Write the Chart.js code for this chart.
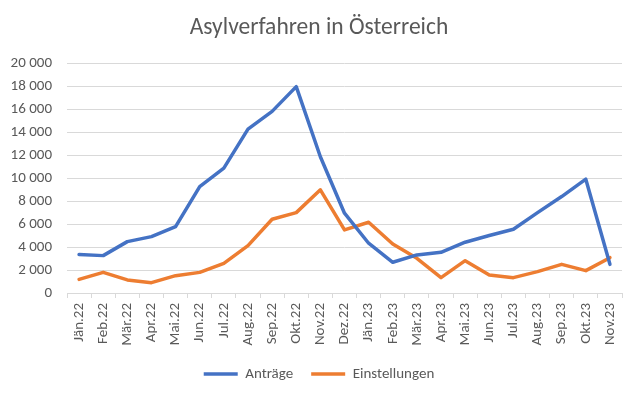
<!DOCTYPE html>
<html>
<head>
<meta charset="utf-8">
<script src="https://cdn.jsdelivr.net/npm/chart.js@4/dist/chart.umd.min.js"></script>
<style>
  html, body { margin: 0; padding: 0; background: #fff; }
  #wrap { width: 638px; height: 397px; }
</style>
</head>
<body>
<div id="wrap"><canvas id="chart"></canvas></div>
<script>
const months = [
  "Jän.22", "Feb.22", "Mär.22", "Apr.22", "Mai.22", "Jun.22", "Jul.22", "Aug.22",
  "Sep.22", "Okt.22", "Nov.22", "Dez.22", "Jän.23", "Feb.23", "Mär.23", "Apr.23",
  "Mai.23", "Jun.23", "Jul.23", "Aug.23", "Sep.23", "Okt.23", "Nov.23"
];
const antraege = [
  3350, 3260, 4480, 4920, 5790, 9280, 10890, 14290, 15840, 18000, 11880, 6960,
  4340, 2680, 3320, 3550, 4430, 5010, 5560, 7010, 8410, 9930, 2500
];
const einstellungen = [
  1190, 1800, 1140, 900, 1510, 1800, 2590, 4130, 6430, 7010, 9000, 5500,
  6170, 4280, 3030, 1340, 2820, 1570, 1340, 1860, 2500, 1950, 3080
];
const yTicks = [0, 2000, 4000, 6000, 8000, 10000, 12000, 14000, 16000, 18000, 20000];

const FONT = "Carlito, Lato, 'Liberation Sans', sans-serif";
const GREY = "#595959";
const GRID = "#d9d9d9";

function fmt(v) {
  return String(v).replace(/\B(?=(\d{3})+(?!\d))/g, " ");
}

new Chart(document.getElementById("chart"), {
  type: "line",
  data: {
    labels: months,
    datasets: [
      {
        label: "Anträge",
        data: antraege,
        borderColor: "#4472C4",
        backgroundColor: "#4472C4",
        borderWidth: 3.5,
        pointRadius: 0,
        tension: 0,
        borderJoinStyle: "round",
        borderCapStyle: "round"
      },
      {
        label: "Einstellungen",
        data: einstellungen,
        borderColor: "#ED7D31",
        backgroundColor: "#ED7D31",
        borderWidth: 3.5,
        pointRadius: 0,
        tension: 0,
        borderJoinStyle: "round",
        borderCapStyle: "round"
      }
    ]
  },
  options: {
    responsive: true,
    maintainAspectRatio: false,
    animation: false,
    layout: { padding: { top: 8, left: 0, right: 0, bottom: 5.5 } },
    plugins: {
      title: {
        display: true,
        text: "Asylverfahren in Österreich",
        color: GREY,
        font: { family: FONT, size: 23.5, weight: "normal" },
        padding: { top: 6, bottom: 21.5 }
      },
      legend: {
        position: "bottom",
        labels: {
          color: GREY,
          font: { family: FONT, size: 15 },
          usePointStyle: true,
          pointStyle: "line",
          pointStyleWidth: 34,
          padding: 18
        }
      },
      tooltip: { enabled: false }
    },
    scales: {
      x: {
        offset: true,
        grid: {
          offset: true,
          drawOnChartArea: false,
          drawTicks: true,
          tickLength: 5,
          color: GRID
        },
        border: { display: true, color: GRID, width: 1 },
        ticks: {
          color: GREY,
          font: { family: FONT, size: 15 },
          minRotation: 90,
          maxRotation: 90,
          autoSkip: false,
          padding: 5
        },
        afterFit(scale) { scale.height = 55.5; }
      },
      y: {
        min: 0,
        max: 20000,
        afterBuildTicks(scale) {
          scale.ticks = yTicks.map(v => ({ value: v }));
        },
        grid: { color: GRID, drawTicks: false },
        border: { display: false },
        ticks: {
          color: GREY,
          font: { family: FONT, size: 15 },
          padding: 15,
          callback: v => fmt(v)
        },
        afterFit(scale) { scale.width = 67; }
      },
      // empty right axis, only keeps a margin so title and legend stay centred
      yRight: {
        position: "right",
        grid: { display: false },
        border: { display: false },
        ticks: { display: false },
        afterFit(scale) { scale.width = 16; }
      }
    }
  }
});
</script>
</body>
</html>
